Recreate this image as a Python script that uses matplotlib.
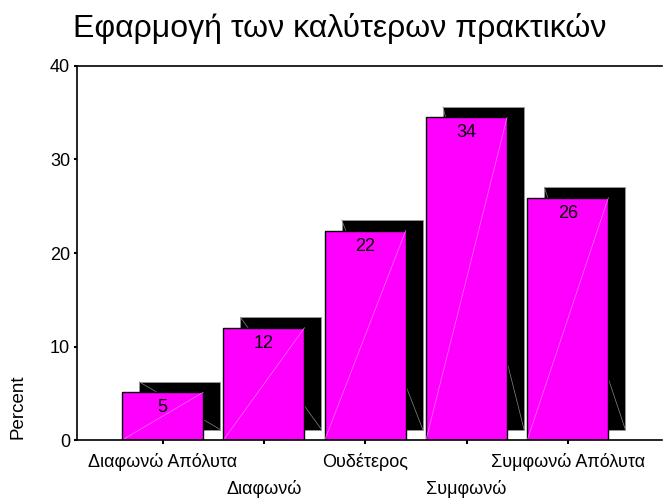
import matplotlib
matplotlib.use('Agg')
import matplotlib.pyplot as plt
from matplotlib.patches import Rectangle

plt.rcParams['font.family'] = ['Liberation Sans', 'DejaVu Sans']

title = 'Εφαρμογή των καλύτερων πρακτικών'
categories = ['Διαφωνώ Απόλυτα', 'Διαφωνώ', 'Ουδέτερος', 'Συμφωνώ', 'Συμφωνώ Απόλυτα']
percent = [5.1, 12.0, 22.4, 34.5, 25.9]
labels = ['5', '12', '22', '34', '26']

fig = plt.figure(figsize=(6.63, 4.98), dpi=100)
ax = fig.add_axes([77 / 663, 1 - 440 / 498, (662 - 77) / 663, (440 - 66) / 498])

width = 0.8
dx, dy = 0.168, 1.12   # shadow offset in data units

for i, v in enumerate(percent):
    x0 = i - width / 2
    # black shadow behind the bar
    ax.add_patch(Rectangle((x0 + dx, dy), width, v, facecolor='black',
                           edgecolor='#999999', linewidth=0.6, zorder=1))
    ax.plot([x0 + dx, x0 + dx + width], [dy + v, dy], color='#888888',
            linewidth=0.5, zorder=1.5)
    # front bar
    ax.add_patch(Rectangle((x0, 0), width, v, facecolor='#ff00ff',
                           edgecolor='black', linewidth=1.0, zorder=2))
    ax.plot([x0, x0 + width], [0, v], color='#ff77ff', linewidth=0.5, zorder=2.5)
    ax.annotate(labels[i], (i, v), xytext=(0, -11.2), textcoords='offset points',
                ha='center', va='center', fontsize=13, zorder=3)

ax.set_xlim(-0.846, 4.93)
ax.set_ylim(0, 40)
ax.set_yticks([0, 10, 20, 30, 40])

# staggered category labels: even ones as major ticks, odd ones as minor ticks lower down
pos = list(range(len(categories)))
ax.set_xticks(pos[0::2])
ax.set_xticklabels(categories[0::2], fontsize=13)
ax.set_xticks(pos[1::2], minor=True)
ax.set_xticklabels(categories[1::2], minor=True, fontsize=13)
ax.tick_params(axis='x', which='major', length=3, width=1.5, pad=6)
ax.tick_params(axis='x', which='minor', length=3, width=1.5, pad=26)
ax.tick_params(axis='y', labelsize=13, length=2, width=1.5, pad=3)

ax.spines['right'].set_visible(False)
for s in ['left', 'top', 'bottom']:
    ax.spines[s].set_linewidth(1.2)

fig.text(340 / 663, 1 - 28 / 498, title, ha='center', va='center', fontsize=23)
fig.text(18 / 663, 1 - 407 / 498, 'Percent', rotation=90, ha='center', va='center',
         fontsize=13.5)

fig.savefig('out.png', dpi=100)
